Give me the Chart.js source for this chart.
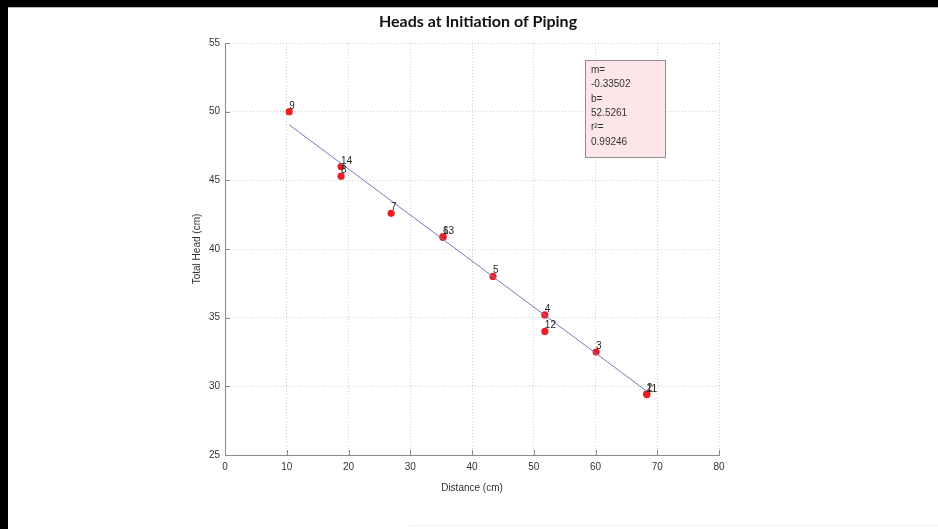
<!DOCTYPE html>
<html>
<head>
<meta charset="utf-8">
<script src="https://cdn.jsdelivr.net/npm/chart.js@4.4.1/dist/chart.umd.min.js"></script>
<style>
  html, body { margin: 0; padding: 0; background: #fff; }
  #wrap { position: absolute; left: 0; top: 0; width: 938px; height: 529px; }
  .bar { position: absolute; background: #000; }
</style>
</head>
<body>
<div id="wrap"><canvas id="chart" width="938" height="529"></canvas></div>
<div class="bar" style="left:0;top:0;width:938px;height:7px;"></div>
<div class="bar" style="left:0;top:0;width:8px;height:529px;"></div>
<div style="position:absolute;left:8px;top:7px;width:930px;height:1px;background:#bbb;"></div>
<div style="position:absolute;left:410px;top:525px;width:528px;height:1px;background:#eee;"></div>
<script>
const distance = [10.4, 18.8, 18.8, 26.9, 35.3, 35.3, 43.4, 51.8, 51.8, 60.1, 68.3, 68.3];
const totalHead = [50.0, 46.0, 45.3, 42.6, 40.9, 40.85, 38.0, 35.2, 34.0, 32.5, 29.45, 29.4];
const pointLabels = ['9', '14', '8', '7', '6', '13', '5', '4', '12', '3', '2', '11'];

// 회귀선
const slope = -0.33502;
const intercept = 52.5261;
const rSquared = 0.99246;
const fitRange = [10.4, 68.3];

const boxLines = ['m=', slope.toFixed(5), 'b=', intercept.toFixed(4), 'r\u00b2=', rSquared.toFixed(5)];

const xTicks = [0, 10, 20, 30, 40, 50, 60, 70, 80];
const yTicks = [25, 30, 35, 40, 45, 50, 55];

const FONT = '"Liberation Sans", Arial, sans-serif';

// 라벨, 안쪽 눈금, 텍스트 박스, 제목
const annot = {
    id: 'annot',
    afterDatasetsDraw(chart) {
        const ctx = chart.ctx;
        const xs = chart.scales.x, ys = chart.scales.y;
        const a = chart.chartArea;
        ctx.save();
        // 안쪽 눈금
        ctx.strokeStyle = '#8a8a8a';
        ctx.lineWidth = 1;
        ctx.beginPath();
        xTicks.forEach(v => {
            const px = Math.round(xs.getPixelForValue(v)) + 0.5;
            ctx.moveTo(px, a.bottom); ctx.lineTo(px, a.bottom - 5);
        });
        yTicks.forEach(v => {
            const py = Math.round(ys.getPixelForValue(v)) + 0.5;
            ctx.moveTo(a.left, py); ctx.lineTo(a.left + 5, py);
        });
        ctx.stroke();

        // 점 번호
        ctx.fillStyle = '#222';
        ctx.font = '10px ' + FONT;
        ctx.textAlign = 'left';
        ctx.textBaseline = 'alphabetic';
        const meta = chart.getDatasetMeta(1);
        meta.data.forEach((pt, i) => {
            ctx.fillText(pointLabels[i], pt.x, pt.y - 3);
        });

        // 텍스트 박스
        const bx = a.left + 360, by = a.top + 17, bw = 80, bh = 97;
        ctx.fillStyle = '#fde6e8';
        ctx.fillRect(bx, by, bw, bh);
        ctx.strokeStyle = '#8c8c8c';
        ctx.strokeRect(bx + 0.5, by + 0.5, bw, bh);
        ctx.fillStyle = '#333';
        boxLines.forEach((t, i) => {
            ctx.fillText(t, bx + 6, by + 13 + i * 14.3);
        });

        // 제목
        ctx.fillStyle = '#111';
        ctx.font = 'bold 16px Lato, "Open Sans", sans-serif';
        ctx.textAlign = 'center';
        ctx.textBaseline = 'middle';
        ctx.fillText('Heads at Initiation of Piping', (a.left + a.right) / 2 + 6, 22);
        ctx.restore();
    }
};

function init() {
    const fitData = fitRange.map(x => ({ x: x, y: slope * x + intercept }));
    const pts = distance.map((x, i) => ({ x: x, y: totalHead[i] }));

    new Chart(document.getElementById('chart'), {
        type: 'scatter',
        data: {
            datasets: [
                { type: 'line', data: fitData, borderColor: '#7478bb', borderWidth: 1, pointRadius: 0, fill: false },
                { data: pts, backgroundColor: '#ee1c24', borderColor: '#ee1c24', pointRadius: 3.6, borderWidth: 0 }
            ]
        },
        options: {
            animation: false,
            responsive: false,
            events: [],
            layout: { padding: { left: 185, right: 219, top: 43, bottom: 29 } },
            plugins: { legend: { display: false }, tooltip: { enabled: false } },
            scales: {
                x: {
                    type: 'linear', min: 0, max: 80,
                    afterBuildTicks: s => { s.ticks = xTicks.map(v => ({ value: v })); },
                    afterFit: s => { s.height = 45; },
                    grid: { color: '#cfcfcf', drawTicks: false },
                    border: { color: '#8a8a8a', dash: [1, 2] },
                    ticks: { color: '#333', font: { family: FONT, size: 10 }, padding: 6, maxRotation: 0 },
                    title: { display: true, text: 'Distance (cm)', color: '#333', font: { family: FONT, size: 10 }, padding: { top: 4, bottom: 6 } }
                },
                y: {
                    type: 'linear', min: 25, max: 55,
                    afterBuildTicks: s => { s.ticks = yTicks.map(v => ({ value: v })); },
                    afterFit: s => { s.width = 40; },
                    grid: { color: '#cfcfcf', drawTicks: false },
                    border: { color: '#8a8a8a', dash: [1, 2] },
                    ticks: { color: '#333', font: { family: FONT, size: 10 }, padding: 5 },
                    title: { display: true, text: 'Total Head (cm)', color: '#333', font: { family: FONT, size: 10 }, padding: { top: 6, bottom: 0 } }
                }
            }
        },
        plugins: [annot]
    });
}

window.onload = init;
</script>
</body>
</html>
